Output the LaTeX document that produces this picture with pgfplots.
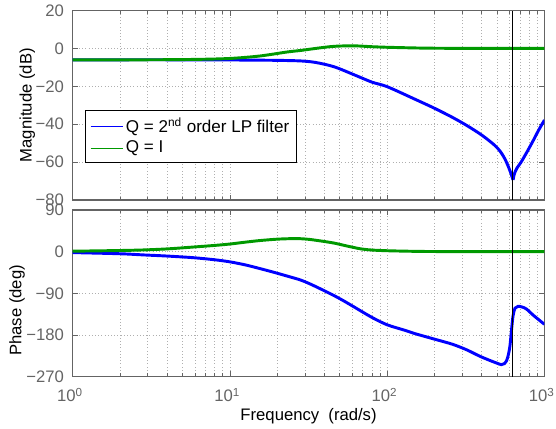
\documentclass[border=0pt]{standalone}
\usepackage{fontspec}
\setmainfont{Liberation Sans}
\usepackage{pgfplots}
\pgfplotsset{compat=1.18}
\definecolor{mblue}{RGB}{0,0,255}
\definecolor{mgreen}{RGB}{0,153,0}
\definecolor{tickgray}{RGB}{100,100,100}
\definecolor{gridgray}{RGB}{175,175,175}
\newcommand{\fs}{\fontsize{12.5}{15}\selectfont}

\begin{document}
\begin{tikzpicture}
\useasboundingbox (0,0) rectangle (417pt,321pt);

% magnitude
\begin{axis}[
    xmode=log, xmin=1, xmax=1000,
    scale only axis, width=353.85pt, height=142.1pt,
    at={(54.5pt,171pt)}, anchor=south west,
    xtick={1,10,100,1000},
    minor xtick={2,3,4,5,6,7,8,9,20,30,40,50,60,70,80,90,200,300,400,500,600,700,800,900},
    grid=both,
    major grid style={gridgray, dotted, line width=0.6pt},
    minor grid style={gridgray, dotted, line width=0.6pt},
    tick align=inside,
    major tick length=4pt, minor tick length=2.5pt,
    tick style={tickgray, line width=0.6pt},
    axis line style={tickgray, line width=0.8pt},
    tick label style={tickgray, font=\fs},
    yticklabel style={xshift=-3pt},
    ymin=-80, ymax=20,
    ytick={-80,-60,-40,-20,0,20},
    yticklabels={−80,−60,−40,−20,0,20},
    xticklabels={},
    ylabel={Magnitude (dB)},
    ylabel style={font=\fs, text=black, at={(axis description cs:-0.096,0.5)}, anchor=center},
    legend style={at={(0.026,0.475)}, anchor=north west, draw=black, line width=0.9pt,
      fill=white, font=\fontsize{12.8}{15}\selectfont, text=black, inner xsep=3.5pt, inner ysep=3.5pt, row sep=1pt},
    legend cell align=left,
    legend image code/.code={\draw[#1, line width=0.75pt] (0pt,0pt) -- (24pt,0pt);},
]
\addplot[mblue, line width=2.2pt, smooth] coordinates {
(1,-6.0)(2,-6.0)(4,-6.0)(7,-6.05)(10,-6.1)(15,-6.2)(20,-6.3)(28,-6.6)(35,-7.4)
(46,-9.7)(62,-14)(80,-17.8)(100,-20.2)(150,-26.8)(200,-31.6)(260,-36.4)(324,-40.9)
(400,-45.8)(479,-50.9)(525,-54.5)(560,-58.3)(590,-62.5)(615,-66.5)(631,-69.4)};
\addlegendentry{Q = 2\textsuperscript{nd} order LP filter}
\addplot[mblue, line width=2.2pt, smooth, forget plot] coordinates {
(631,-69.4)(645,-66)(670,-63)(708,-60.2)(776,-54.5)(851,-48.4)(920,-43)(1000,-37.8)};
\addplot[mgreen, line width=2.2pt, smooth] coordinates {
(1,-6.0)(3,-6.0)(6,-5.8)(10,-5.3)(15.5,-4.0)(23,-1.9)(28,-1.1)(33,-0.3)(40,0.6)
(46,1.1)(55,1.35)(65,1.3)(80,0.9)(100,0.6)(150,0.25)(200,0.1)(400,0)(1000,0)};
\addlegendentry{Q = I}
\addplot[black, line width=0.75pt, forget plot] coordinates {(630,-80)(630,20)};
\end{axis}

% phase
\begin{axis}[
    xmode=log, xmin=1, xmax=1000,
    scale only axis, width=353.85pt, height=125pt,
    at={(54.5pt,38.5pt)}, anchor=south west,
    xtick={1,10,100,1000},
    minor xtick={2,3,4,5,6,7,8,9,20,30,40,50,60,70,80,90,200,300,400,500,600,700,800,900},
    grid=both,
    major grid style={gridgray, dotted, line width=0.6pt},
    minor grid style={gridgray, dotted, line width=0.6pt},
    tick align=inside,
    major tick length=4pt, minor tick length=2.5pt,
    tick style={tickgray, line width=0.6pt},
    axis line style={tickgray, line width=0.8pt},
    tick label style={tickgray, font=\fs},
    yticklabel style={xshift=-3pt},
    ymin=-270, ymax=90,
    ytick={-270,-180,-90,0,90},
    yticklabels={−270,−180,−90,0,90},
    xticklabels={10\textsuperscript{0},10\textsuperscript{1},10\textsuperscript{2},10\textsuperscript{3}},
    xticklabel style={anchor=base, yshift=-19pt, xshift=-2pt},
    ylabel={Phase (deg)},
    ylabel style={font=\fs, text=black, at={(axis description cs:-0.118,0.398)}, anchor=center},
    xlabel={Frequency\ \ (rad/s)},
    xlabel style={font=\fs, text=black, at={(axis description cs:0.5,0)}, anchor=base, yshift=-32.5pt},
]
\addplot[mblue, line width=2.2pt, smooth] coordinates {
(1,-2)(2,-4.5)(2.81,-7)(4,-9.5)(5.85,-13)(8,-17.5)(10,-22)(12.5,-28.5)(15.5,-36.5)
(19,-44.5)(23,-52.5)(28,-61)(32,-69)(38,-81)(46,-95)(54,-108)(62,-120)(80,-142)
(100,-158)(130,-170)(150,-177)(200,-189)(260,-200)(320,-212)(389,-226)(450,-235)
(500,-241)(531,-244)(555,-242)(575,-235)(590,-222)(603,-204)(617,-170)(631,-139)
(650,-122)(680,-118)(720,-119.5)(769,-124)(847,-137)(1000,-157)};
\addplot[mgreen, line width=2.2pt, smooth] coordinates {
(1,1)(2,2.5)(2.81,3.7)(4,6)(5.85,10)(8,13.5)(10,16.5)(12.5,20.5)(15.5,24)(20,27)
(25,28.2)(28,28)(32,26.5)(38,23)(46,18.5)(55,12.5)(68,6)(80,3.5)(100,2)(150,0.7)
(200,0.3)(400,0)(1000,0)};
\addplot[black, line width=0.75pt] coordinates {(630,-270)(630,90)};
\end{axis}
\end{tikzpicture}
\end{document}
